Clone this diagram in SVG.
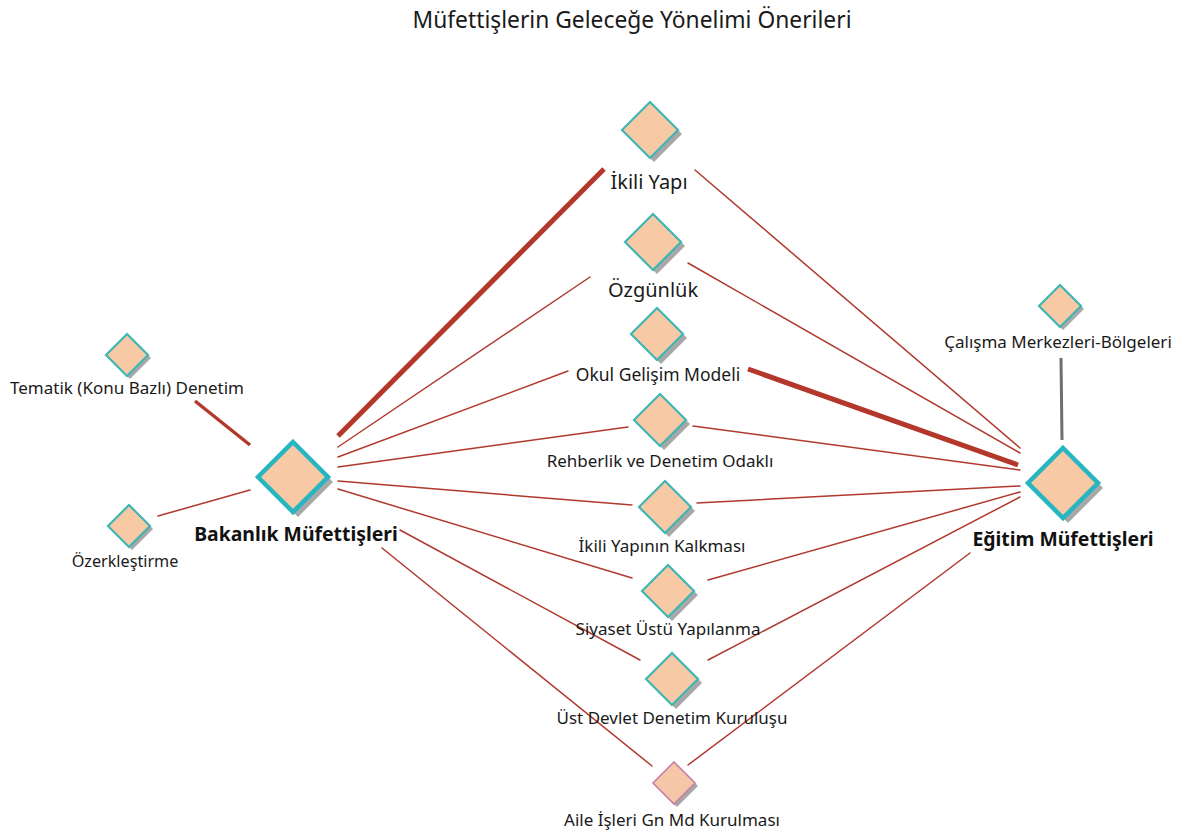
<svg xmlns="http://www.w3.org/2000/svg" width="1187" height="833" viewBox="0 0 1187 833">
  <style>
    .bg { fill: #ffffff; }
    .title { font-family: "Noto Sans", "Open Sans", sans-serif; font-size: 22.8px; fill: #1a1a1a; }
    .lbl { font-family: "Noto Sans", "Open Sans", sans-serif; font-size: 17px; fill: #1a1a1a; text-anchor: middle; }
    .lbl-l { font-size: 20px; }
    .lbl-b { font-family: "Noto Sans", "Open Sans", sans-serif; font-size: 19.4px; font-weight: bold; fill: #111; text-anchor: middle; }
    .edge { stroke: #b0392c; stroke-width: 1.5; fill: none; stroke-linecap: round; }
    .edge-thick { stroke: #b3372b; stroke-width: 5; fill: none; }
    .edge-mid { stroke: #b3372b; stroke-width: 3.5; fill: none; }
    .edge-grey { stroke: #6e6e6e; stroke-width: 3; fill: none; }
    .shadow { fill: #a8a8a8; }
    .dia { fill: #f7c9a4; stroke: #3fb6b4; stroke-width: 2.2; }
    .dia-big { fill: #f7c9a4; stroke: #27b5c1; stroke-width: 4.5; }
    .dia-pink { fill: #f6c6a8; stroke: #c47fa6; stroke-width: 1.6; }
  </style>
  <defs>
    <polygon id="d-s" points="0,-21 21,0 0,21 -21,0"/>
    <polygon id="d-m" points="0,-26 26,0 0,26 -26,0"/>
    <polygon id="d-l" points="0,-28 28,0 0,28 -28,0"/>
    <polygon id="d-xl" points="0,-35 35,0 0,35 -35,0"/>
  </defs>
  <rect class="bg" x="0" y="0" width="1187" height="833"/>

  <text class="title" x="632" y="28" text-anchor="middle">Müfettişlerin Geleceğe Yönelimi Önerileri</text>

  <g id="connectors">
    <!-- Bakanlık Müfettişleri -->
    <line class="edge-thick" x1="338" y1="436" x2="604" y2="169"/>
    <line class="edge" x1="338" y1="447" x2="590" y2="277"/>
    <line class="edge" x1="338" y1="457" x2="568" y2="371"/>
    <line class="edge" x1="338" y1="467" x2="628" y2="427"/>
    <line class="edge" x1="338" y1="481" x2="632" y2="505"/>
    <line class="edge" x1="338" y1="489" x2="632" y2="578"/>
    <line class="edge" x1="400" y1="530" x2="640" y2="660"/>
    <line class="edge" x1="382" y1="548" x2="652" y2="766"/>
    <line class="edge-mid" x1="195" y1="401" x2="250" y2="445"/>
    <line class="edge" x1="158" y1="516" x2="250" y2="490"/>
    <!-- Eğitim Müfettişleri -->
    <line class="edge" x1="1020" y1="448" x2="695" y2="170"/>
    <line class="edge" x1="1020" y1="453" x2="688" y2="263"/>
    <line class="edge-thick" x1="1018" y1="465" x2="748" y2="369"/>
    <line class="edge" x1="1020" y1="470" x2="693" y2="426"/>
    <line class="edge" x1="1020" y1="486" x2="697" y2="503"/>
    <line class="edge" x1="1020" y1="492" x2="708" y2="580"/>
    <line class="edge" x1="1020" y1="497" x2="708" y2="660"/>
    <line class="edge" x1="970" y1="553" x2="688" y2="765"/>
    <line class="edge-grey" x1="1061" y1="358" x2="1062" y2="440"/>
  </g>

  <g id="n-ikili-yapi">
    <use href="#d-l" class="shadow" x="654" y="134"/>
    <use href="#d-l" class="dia" x="650" y="130"/>
    <text class="lbl lbl-l" x="649" y="189">İkili Yapı</text>
  </g>
  <g id="n-ozgunluk">
    <use href="#d-l" class="shadow" x="657" y="246"/>
    <use href="#d-l" class="dia" x="653" y="242"/>
    <text class="lbl lbl-l" x="653" y="297">Özgünlük</text>
  </g>
  <g id="n-okul">
    <use href="#d-m" class="shadow" x="661" y="338"/>
    <use href="#d-m" class="dia" x="657" y="334"/>
    <text class="lbl" x="658" y="381" style="font-size:17.5px">Okul Gelişim Modeli</text>
  </g>
  <g id="n-rehberlik">
    <use href="#d-m" class="shadow" x="664" y="424"/>
    <use href="#d-m" class="dia" x="660" y="420"/>
    <text class="lbl" x="660" y="467">Rehberlik ve Denetim Odaklı</text>
  </g>
  <g id="n-ikili-kalkmasi">
    <use href="#d-m" class="shadow" x="669" y="511"/>
    <use href="#d-m" class="dia" x="665" y="507"/>
    <text class="lbl" x="662" y="552">İkili Yapının Kalkması</text>
  </g>
  <g id="n-siyaset">
    <use href="#d-m" class="shadow" x="672" y="595"/>
    <use href="#d-m" class="dia" x="668" y="591"/>
    <text class="lbl" x="668" y="635">Siyaset Üstü Yapılanma</text>
  </g>
  <g id="n-ust-devlet">
    <use href="#d-m" class="shadow" x="676" y="683"/>
    <use href="#d-m" class="dia" x="672" y="679"/>
    <text class="lbl" x="672" y="724">Üst Devlet Denetim Kuruluşu</text>
  </g>
  <g id="n-aile">
    <use href="#d-s" class="shadow" x="677" y="786"/>
    <use href="#d-s" class="dia-pink" x="674" y="783"/>
    <text class="lbl" x="672" y="826">Aile İşleri Gn Md Kurulması</text>
  </g>
  <g id="n-bakanlik">
    <use href="#d-xl" class="shadow" x="298" y="482"/>
    <use href="#d-xl" class="dia-big" x="293" y="477"/>
    <text class="lbl-b" x="296" y="541">Bakanlık Müfettişleri</text>
  </g>
  <g id="n-egitim">
    <use href="#d-xl" class="shadow" x="1068" y="488"/>
    <use href="#d-xl" class="dia-big" x="1063" y="483"/>
    <text class="lbl-b" x="1063" y="546">Eğitim Müfettişleri</text>
  </g>
  <g id="n-calisma">
    <use href="#d-s" class="shadow" x="1063" y="309"/>
    <use href="#d-s" class="dia" x="1060" y="306"/>
    <text class="lbl" x="1058" y="348">Çalışma Merkezleri-Bölgeleri</text>
  </g>
  <g id="n-tematik">
    <use href="#d-s" class="shadow" x="130" y="358"/>
    <use href="#d-s" class="dia" x="127" y="355"/>
    <text class="lbl" x="127" y="394">Tematik (Konu Bazlı) Denetim</text>
  </g>
  <g id="n-ozerk">
    <use href="#d-s" class="shadow" x="132" y="529"/>
    <use href="#d-s" class="dia" x="129" y="526"/>
    <text class="lbl" x="125" y="567" style="font-size:16.2px">Özerkleştirme</text>
  </g>
</svg>
